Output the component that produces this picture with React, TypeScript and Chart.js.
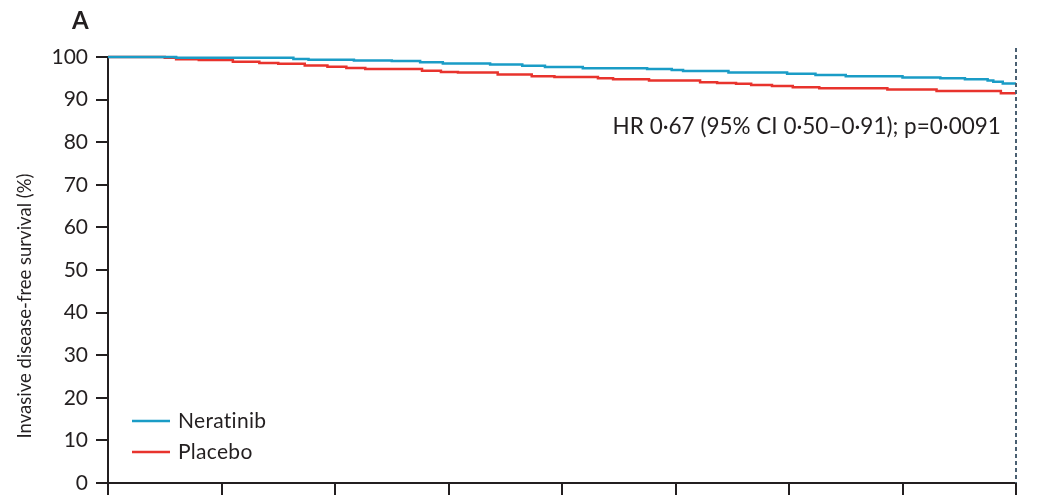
import React, { useEffect, useRef } from "react";
import { Chart, registerables } from "chart.js";

Chart.register(...registerables);

const xTicks = [0, 3, 6, 9, 12, 15, 18, 21, 24];
const yTicks = [0, 10, 20, 30, 40, 50, 60, 70, 80, 90, 100];

const neratinibTime = [0, 1.8, 4.9, 5.3, 6.5, 7.5, 8.25, 8.85, 10.1, 10.95, 11.55, 12.55, 14.25, 14.9, 15.2, 16.4, 17.95, 18.7, 19.5, 21.0, 22.0, 22.65, 23.25, 23.4, 23.65, 24];
const neratinibSurv = [100, 99.85, 99.55, 99.35, 99.2, 99.05, 98.75, 98.5, 98.25, 97.95, 97.65, 97.35, 97.2, 96.95, 96.7, 96.35, 96.05, 95.8, 95.5, 95.2, 95.0, 94.75, 94.5, 94.2, 93.8, 93.8];

const placeboTime = [0, 1.5, 1.8, 2.4, 3.3, 4.0, 4.5, 5.2, 5.8, 6.3, 6.8, 8.3, 8.8, 9.25, 10.3, 11.2, 11.8, 12.95, 13.35, 14.3, 15.65, 16.1, 16.6, 17.0, 17.55, 18.1, 18.8, 20.6, 21.9, 23.6, 24];
const placeboSurv = [100, 99.8, 99.5, 99.3, 98.9, 98.6, 98.4, 98.0, 97.7, 97.4, 97.2, 96.8, 96.5, 96.35, 95.9, 95.5, 95.3, 95.0, 94.8, 94.5, 94.1, 93.9, 93.7, 93.4, 93.2, 92.9, 92.65, 92.4, 92.0, 91.5, 91.5];

const seriesLabels = ["Neratinib", "Placebo"];
const seriesColors = ["#1a9cc6", "#e8332d"];
const annotationText = "HR 0·67 (95% CI 0·50–0·91); p=0·0091";
const panelLabel = "A";
const yTitle = "Invasive disease-free survival (%)";
const dashedAt = 24;

const FONT = "Lato, 'Open Sans', sans-serif";
const INK = "#231f20";

export default function App() {
  const ref = useRef<HTMLCanvasElement>(null);
  useEffect(() => {
    document.body.style.margin = "0";
    const canvas = ref.current!;
    const extras = {
      id: "extras",
      afterDatasetsDraw(chart: any) {
        const { ctx, chartArea, scales } = chart;
        const x = scales.x;
        const y = scales.y;
        ctx.save();
        // dashed vertical line
        const dx = x.getPixelForValue(dashedAt);
        ctx.strokeStyle = "#4a6072";
        ctx.lineWidth = 2;
        ctx.setLineDash([4, 3]);
        ctx.beginPath();
        ctx.moveTo(dx, chartArea.top - 9);
        ctx.lineTo(dx, chartArea.bottom);
        ctx.stroke();
        ctx.setLineDash([]);
        // annotation
        ctx.fillStyle = INK;
        ctx.font = `22.5px ${FONT}`;
        ctx.textAlign = "right";
        ctx.textBaseline = "middle";
        ctx.fillText(annotationText, x.getPixelForValue(23.6), y.getPixelForValue(83.6));
        // legend
        ctx.font = `21px ${FONT}`;
        ctx.textAlign = "left";
        try { (ctx as any).letterSpacing = "0.3px"; } catch (e) {}
        seriesLabels.forEach((lab, i) => {
          const ly = chartArea.bottom - 62 + i * 31;
          ctx.strokeStyle = seriesColors[i];
          ctx.lineWidth = 2.5;
          ctx.beginPath();
          ctx.moveTo(chartArea.left + 24, ly);
          ctx.lineTo(chartArea.left + 62, ly);
          ctx.stroke();
          ctx.fillText(lab, chartArea.left + 70, ly);
        });
        try { (ctx as any).letterSpacing = "0px"; } catch (e) {}
        // y title
        ctx.save();
        ctx.font = `18.5px ${FONT}`;
        ctx.textAlign = "center";
        ctx.textBaseline = "middle";
        ctx.translate(25, 306);
        ctx.rotate(-Math.PI / 2);
        ctx.fillText(yTitle, 0, 0);
        ctx.restore();
        // panel label
        ctx.font = `bold 24px ${FONT}`;
        ctx.textAlign = "left";
        ctx.textBaseline = "alphabetic";
        ctx.fillText(panelLabel, 72, 29);
        ctx.restore();
      },
    };
    const chart = new Chart(canvas, {
      type: "line",
      data: {
        datasets: [
          {
            label: seriesLabels[0],
            data: neratinibTime.map((t, i) => ({ x: t, y: neratinibSurv[i] })),
            borderColor: seriesColors[0],
            borderWidth: 2.5,
            pointRadius: 0,
            stepped: "before",
            clip: 6,
          },
          {
            label: seriesLabels[1],
            data: placeboTime.map((t, i) => ({ x: t, y: placeboSurv[i] })),
            borderColor: seriesColors[1],
            borderWidth: 2.5,
            pointRadius: 0,
            stepped: "before",
            clip: 6,
          },
        ],
      },
      plugins: [extras],
      options: {
        animation: false,
        responsive: false,
        events: [],
        layout: { padding: { left: 0, right: 22, top: 57, bottom: 0 } },
        plugins: { legend: { display: false }, tooltip: { enabled: false } },
        scales: {
          x: {
            type: "linear",
            min: 0,
            max: 24,
            afterBuildTicks: (s: any) => {
              s.ticks = xTicks.map((v) => ({ value: v }));
            },
            afterFit: (s: any) => {
              s.height = 16;
              s.paddingLeft = 0;
              s.paddingRight = 0;
            },
            ticks: { display: false },
            grid: { drawOnChartArea: false, drawTicks: true, tickLength: 12, color: INK, lineWidth: 2 },
            border: { display: true, color: INK, width: 2 },
          },
          y: {
            min: 0,
            max: 100,
            afterBuildTicks: (s: any) => {
              s.ticks = yTicks.map((v) => ({ value: v }));
            },
            afterFit: (s: any) => {
              s.width = 108;
              s.paddingTop = 0;
              s.paddingBottom = 0;
            },
            ticks: { color: INK, font: { family: FONT, size: 21 }, padding: 8 },
            grid: { drawOnChartArea: false, drawTicks: true, tickLength: 12, color: INK, lineWidth: 2 },
            border: { display: true, color: INK, width: 2 },
            title: { display: false },
          },
        },
      },
    });
    return () => chart.destroy();
  }, []);
  return <canvas ref={ref} width={1038} height={499} style={{ display: "block" }} />;
}
